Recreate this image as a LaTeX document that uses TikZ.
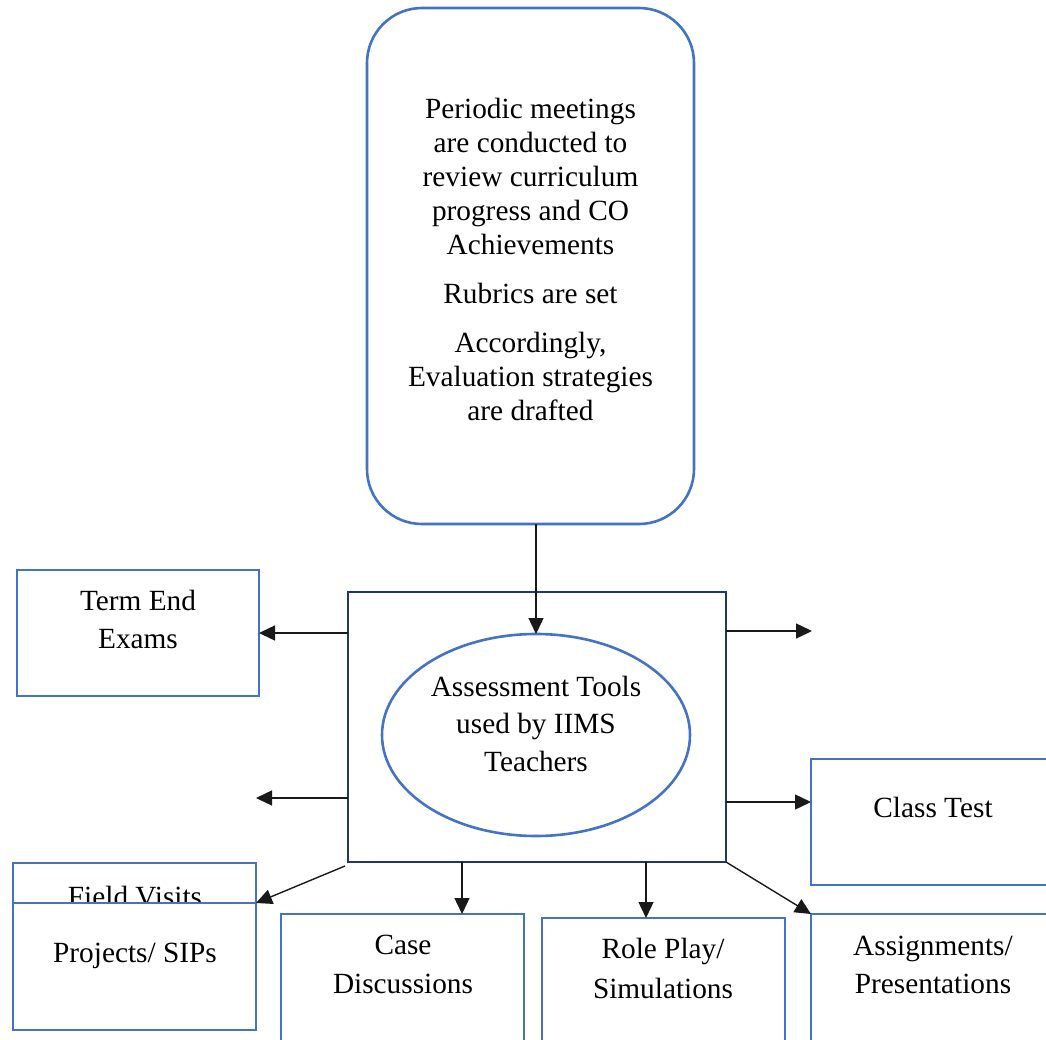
\documentclass[tikz,border=0pt]{standalone}
\usepackage{fontspec}
\setmainfont{Liberation Serif}
\usetikzlibrary{arrows.meta,shapes.geometric}
\definecolor{boxblue}{HTML}{4472C4}
\definecolor{navyline}{HTML}{1F3864}
\begin{document}
\begin{tikzpicture}[x=1pt,y=-1pt,
  txt/.style={font=\fontsize{29.3}{34}\selectfont, align=center, inner sep=0pt},
  bluebox/.style={draw=boxblue, line width=2.6pt, fill=white, rectangle,
    inner sep=0pt, outer sep=0pt},
  arr/.style={-{Triangle[length=16pt,width=15pt]}, line width=1.4pt, draw=black!90}]
\useasboundingbox (0,0) rectangle (1046,1040);
\begin{scope}
\clip (0,0) rectangle (1046,1040);

% planning box at the top
\node[bluebox, rounded corners=55pt, minimum width=327pt, minimum height=516pt]
  (plan) at (530.5,266) {};
\node[txt] (plan-t) at (530.5,259.5)
  {Periodic meetings\\are conducted to\\review curriculum\\progress and CO\\Achievements\\[15pt]
   Rubrics are set\\[15pt]Accordingly,\\Evaluation strategies\\are drafted};

% central frame with the ellipse
\node[draw=navyline, line width=2.6pt, rectangle, inner sep=0pt, outer sep=0pt,
  minimum width=378pt, minimum height=270pt] (main) at (537,727) {};
\node[draw=boxblue, line width=2.6pt, ellipse, inner sep=0pt, outer sep=0pt,
  minimum width=308pt, minimum height=202pt] (ell) at (536,735) {};
\node[txt, font=\fontsize{29.3}{37.5}\selectfont] (ell-t) at (536,723.5)
  {Assessment Tools\\used by IIMS\\Teachers};

% assessment tool boxes
\node[bluebox, minimum width=242pt, minimum height=126pt] (tee) at (138,633) {};
\node[txt, font=\fontsize{29.3}{38}\selectfont] (tee-t) at (138,619) {Term End\\Exams};

\node[bluebox, minimum width=249pt, minimum height=126pt] (ct) at (935.5,822) {};
\node[txt] (ct-t) at (933,807.5) {Class Test};

\node[bluebox, minimum width=243pt, minimum height=127pt] (fv) at (134.5,926.5) {};
\node[txt] (fv-t) at (135,896.5) {Field Visits};

\node[bluebox, minimum width=243pt, minimum height=127pt] (proj) at (134.5,966.5) {};
\node[txt] (proj-t) at (135,956) {Projects/ SIPs};

\node[bluebox, minimum width=243pt, minimum height=140pt] (case) at (402.5,984) {};
\node[txt, font=\fontsize{29.3}{39}\selectfont] (case-t) at (403,964) {Case\\Discussions};

\node[bluebox, minimum width=243pt, minimum height=140pt] (role) at (663.5,988) {};
\node[txt, font=\fontsize{29.3}{40}\selectfont] (role-t) at (663,968) {Role Play/\\Simulations};

\node[bluebox, minimum width=249pt, minimum height=140pt] (asg) at (935.5,984) {};
\node[txt, font=\fontsize{29.3}{38}\selectfont] (asg-t) at (933,964.5) {Assignments/\\Presentations};

% loose arrow ends
\coordinate (lfree) at (256,798);
\coordinate (rfree) at (812,631);

% connectors
\draw[arr] (ell.north |- plan.south) -- (ell.north);
\draw[arr] (main.west |- tee.east) -- (tee.east);
\draw[arr] (main.west |- lfree) -- (lfree);
\draw[arr] (main.east |- rfree) -- (rfree);
\draw[arr] ([yshift=-75pt]main.east) -- ([yshift=-75pt]main.east -| ct.west);
\draw[arr] ([xshift=-3pt,yshift=-4pt]main.south west) -- (proj.north east);
\draw[arr] ([xshift=59.5pt]case.north |- main.south) -- ([xshift=59.5pt]case.north);
\draw[arr] ([xshift=-17.5pt]role.north |- main.south) -- ([xshift=-17.5pt]role.north);
\draw[arr] (main.south east) -- (asg.north west);
\end{scope}
\end{tikzpicture}
\end{document}
